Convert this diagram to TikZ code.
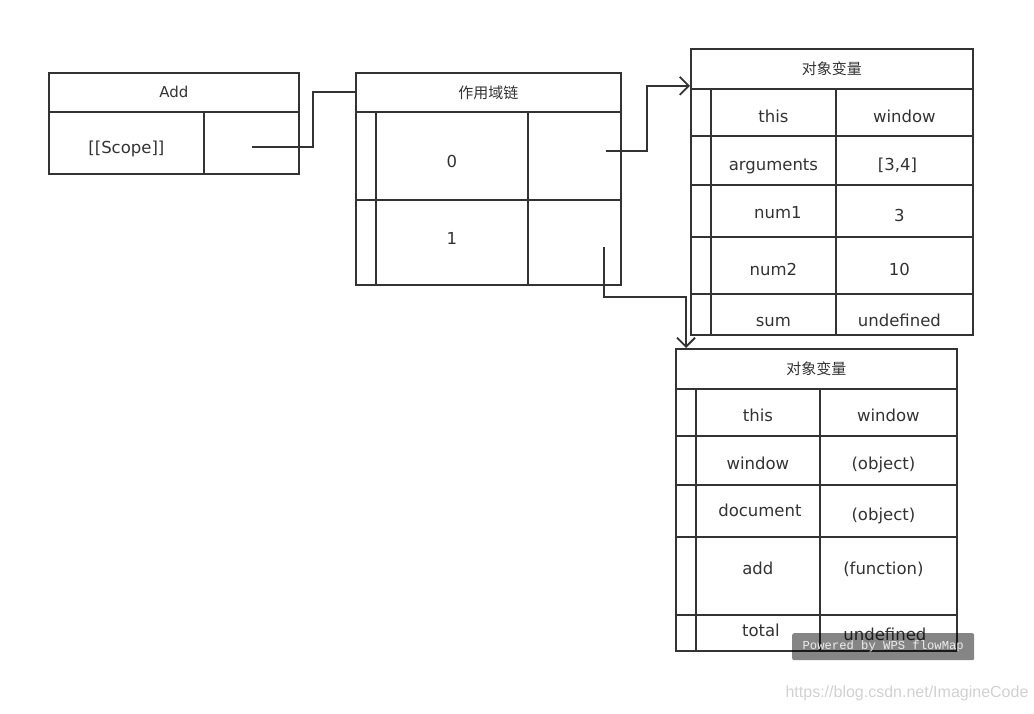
\documentclass[tikz,border=0pt]{standalone}
\usepackage{fontspec}
\setmainfont{DejaVu Sans}
\newfontfamily\cjk{Noto Sans CJK SC}
\newfontfamily\wpsmono{Liberation Mono}
\newfontfamily\urlfont{Liberation Sans}
\usetikzlibrary{arrows.meta}
\definecolor{ink}{HTML}{333333}

\begin{document}
\begin{tikzpicture}[x=1pt, y=-1pt,
        cell/.style = {rectangle, draw=ink, line width=1.8pt, inner sep=0pt, anchor=north west, text=ink, font=\fontsize{16.5}{18}\selectfont},
        headcell/.style = {cell, font=\fontsize{15}{17}\selectfont},
        txt/.style = {text height=#1, text depth=2pt},
        link/.style = {draw=ink, line width=1.8pt},
        arrowlink/.style = {link, -{Straight Barb[length=9pt, width=18pt, line width=1.8pt]}}
    ]
    \useasboundingbox (0,0) rectangle (1034,714);

    % Add
    \node[headcell, minimum width=250pt, minimum height=39pt] (addhead) at (48,72) {Add};
    \node[cell, txt=24pt, minimum width=155pt, minimum height=62pt] (addname) at (48,111) {[[Scope]]};
    \node[cell, minimum width=95pt, minimum height=62pt] (addptr) at (203,111) {};

    % scope chain
    \node[headcell, minimum width=265pt, minimum height=39pt] (chainhead) at (355,72) {{\cjk 作用域链}};
    \node[cell, minimum width=20pt, minimum height=88pt] (chainbar0) at (355,111) {};
    \node[cell, txt=26pt, minimum width=152pt, minimum height=88pt] (chainidx0) at (375,111) {0};
    \node[cell, minimum width=93pt, minimum height=88pt] (chainptr0) at (527,111) {};
    \node[cell, minimum width=20pt, minimum height=85pt] (chainbar1) at (355,199) {};
    \node[cell, txt=7pt, minimum width=152pt, minimum height=85pt] (chainidx1) at (375,199) {1};
    \node[cell, minimum width=93pt, minimum height=85pt] (chainptr1) at (527,199) {};

    % variable object of add
    \node[headcell, minimum width=282pt, minimum height=40pt] (acthead) at (690,48) {{\cjk 对象变量}};
    \node[cell, minimum width=20pt, minimum height=47pt] (actbar1) at (690,88) {};
    \node[cell, txt=23pt, minimum width=125pt, minimum height=47pt] (actkey1) at (710,88) {this};
    \node[cell, txt=23pt, minimum width=137pt, minimum height=47pt] (actval1) at (835,88) {window};
    \node[cell, minimum width=20pt, minimum height=49pt] (actbar2) at (690,135) {};
    \node[cell, txt=23pt, minimum width=125pt, minimum height=49pt] (actkey2) at (710,135) {arguments};
    \node[cell, txt=23pt, minimum width=137pt, minimum height=49pt, text width=137pt, align=center] (actval2) at (835,135) {\hspace*{-14pt}[3,4]};
    \node[cell, minimum width=20pt, minimum height=52pt] (actbar3) at (690,184) {};
    \node[cell, txt=18pt, minimum width=125pt, minimum height=52pt, text width=125pt, align=center] (actkey3) at (710,184) {\hspace*{9pt}num1};
    \node[cell, txt=24pt, minimum width=137pt, minimum height=52pt, text width=137pt, align=center] (actval3) at (835,184) {\hspace*{-10pt}3};
    \node[cell, minimum width=20pt, minimum height=57pt] (actbar4) at (690,236) {};
    \node[cell, txt=23pt, minimum width=125pt, minimum height=57pt] (actkey4) at (710,236) {num2};
    \node[cell, txt=23pt, minimum width=137pt, minimum height=57pt, text width=137pt, align=center] (actval4) at (835,236) {\hspace*{-10pt}10};
    \node[cell, minimum width=20pt, minimum height=41pt] (actbar5) at (690,293) {};
    \node[cell, txt=27pt, minimum width=125pt, minimum height=41pt] (actkey5) at (710,293) {sum};
    \node[cell, txt=27pt, minimum width=137pt, minimum height=41pt, text width=137pt, align=center] (actval5) at (835,293) {\hspace*{-10pt}undefined};

    % global variable object
    \node[headcell, minimum width=281pt, minimum height=40pt] (globhead) at (675,348) {{\cjk 对象变量}};
    \node[cell, minimum width=20pt, minimum height=47pt] (globbar1) at (675,388) {};
    \node[cell, txt=21pt, minimum width=124pt, minimum height=47pt] (globkey1) at (695,388) {this};
    \node[cell, txt=21pt, minimum width=137pt, minimum height=47pt] (globval1) at (819,388) {window};
    \node[cell, minimum width=20pt, minimum height=49pt] (globbar2) at (675,435) {};
    \node[cell, txt=21pt, minimum width=124pt, minimum height=49pt] (globkey2) at (695,435) {window};
    \node[cell, txt=21pt, minimum width=137pt, minimum height=49pt, text width=137pt, align=center] (globval2) at (819,435) {\hspace*{-10pt}(object)};
    \node[cell, minimum width=20pt, minimum height=52pt] (globbar3) at (675,484) {};
    \node[cell, txt=14pt, minimum width=124pt, minimum height=52pt, text width=124pt, align=center] (globkey3) at (695,484) {\hspace*{4pt}document};
    \node[cell, txt=22pt, minimum width=137pt, minimum height=52pt, text width=137pt, align=center] (globval3) at (819,484) {\hspace*{-10pt}(object)};
    \node[cell, minimum width=20pt, minimum height=78pt] (globbar4) at (675,536) {};
    \node[cell, txt=0pt, minimum width=124pt, minimum height=78pt] (globkey4) at (695,536) {add};
    \node[cell, txt=0pt, minimum width=137pt, minimum height=78pt, text width=137pt, align=center] (globval4) at (819,536) {\hspace*{-10pt}(function)};
    \node[cell, minimum width=20pt, minimum height=36pt] (globbar5) at (675,614) {};
    \node[cell, txt=10pt, minimum width=124pt, minimum height=36pt, text width=124pt, align=center] (globkey5) at (695,614) {\hspace*{6pt}total};
    \node[cell, txt=18pt, minimum width=137pt, minimum height=36pt, text width=137pt, align=center] (globval5) at (819,614) {\hspace*{-7pt}undefined};

    % links
    \coordinate (addout) at (252,147);
    \coordinate (chainout0) at (606,151);
    \coordinate (chainout1) at (604,247);
    \draw[link] (addout) -- ++(61,0) |- (chainhead.west);
    \draw[arrowlink] (chainout0) -- ++(41,0) |- ([yshift=4pt]acthead.south west);
    \draw[arrowlink] (chainout1) -- ++(0,50) -| ([xshift=11pt]globhead.north west);

    % watermarks
    \node[fill=black, fill opacity=0.48, text opacity=1, rounded corners=2pt, inner sep=0pt,
          minimum width=182pt, minimum height=27pt, anchor=north west, text=white!85!gray,
          font=\wpsmono\fontsize{12.2}{13}\selectfont] (wps) at (792,633) {Powered by WPS flowMap};
    \node[text=black!18, font=\urlfont\fontsize{16}{18}\selectfont] (url) at (907,693) {https://blog.csdn.net/ImagineCode};
\end{tikzpicture}
\end{document}
